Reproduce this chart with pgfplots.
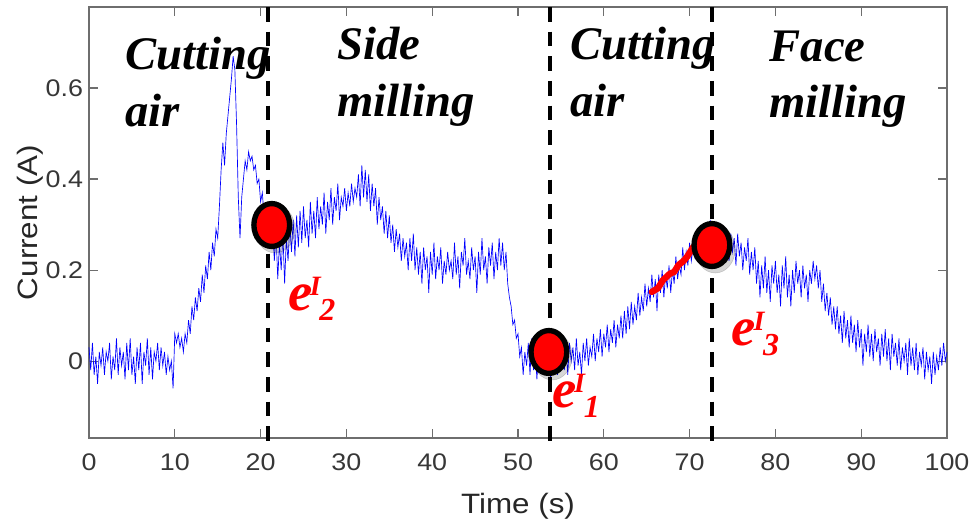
\documentclass[border=0pt]{standalone}
\usepackage{pgfplots}
\pgfplotsset{compat=1.18}
\usepackage{fontspec}
\newfontfamily\lsans{Liberation Sans}[FakeStretch=1.12]
\newfontfamily\tnr{Liberation Serif}
\definecolor{tickgray}{RGB}{55,55,55}
\definecolor{axgray}{RGB}{110,110,110}
\newcommand{\reg}{\tnr\bfseries\itshape\fontsize{35}{35}\selectfont}
\newcommand{\elab}[1]{{\tnr\bfseries\itshape\color{red}\fontsize{41}{41}\selectfont e\kern-2pt\raisebox{11pt}{\fontsize{21}{21}\selectfont I}\kern-1pt\raisebox{-8pt}{\fontsize{24}{24}\selectfont #1}}}
\begin{document}
\begin{tikzpicture}
\begin{axis}[
  scale only axis, width=643.5pt, height=323.25pt,
  xmin=0, xmax=100, ymin=-0.169, ymax=0.778,
  xtick={0,10,...,100}, ytick={0,0.2,0.4,0.6},
  yticklabels={0,0.2,0.4,0.6},
  tick align=inside, major tick length=6.5pt,
  axis line style={axgray, line width=0.8pt},
  every tick/.style={axgray, line width=0.8pt},
  /pgf/number format/assume math mode=true,
  tick label style={font=\lsans\fontsize{18}{18}\selectfont, text=tickgray},
  xticklabel style={yshift=-8pt},
  yticklabel style={xshift=-1pt},
  xlabel={Time (s)}, ylabel={Current (A)},
  every axis x label/.style={at={(rel axis cs:0.5,-0.158)}, anchor=center, font=\lsans\fontsize{21}{21}\selectfont, text=black!85},
  every axis y label/.style={at={(rel axis cs:-0.0688,0.5)}, anchor=center, rotate=90, font=\lsans\fontsize{21}{21}\selectfont, text=black!85},
  clip=false,
]
\addplot[blue, line width=0.5pt] table {
0.0 0.03
0.2 -0.02
0.4 0.04
0.6 -0.03
0.8 0.01
1.0 -0.05
1.2 0.02
1.4 -0.01
1.6 0.03
1.8 -0.03
2.0 0.02
2.2 0.00
2.4 0.04
2.6 -0.04
2.8 0.01
3.0 -0.02
3.2 0.05
3.4 -0.03
3.6 0.03
3.8 -0.01
4.0 0.02
4.2 -0.04
4.4 0.04
4.6 -0.02
4.8 0.05
5.0 -0.03
5.2 0.01
5.4 -0.05
5.6 0.03
5.8 -0.02
6.0 0.04
6.2 -0.05
6.4 0.02
6.6 -0.01
6.8 0.05
7.0 -0.03
7.2 0.03
7.4 -0.04
7.6 0.02
7.8 0.00
8.0 0.04
8.2 -0.02
8.4 0.03
8.6 -0.01
8.8 0.02
9.0 -0.03
9.2 0.01
9.4 -0.02
9.6 0.00
9.8 -0.06
10.0 0.06
10.2 0.04
10.4 0.06
10.6 0.03
10.8 0.05
11.0 0.02
11.2 0.06
11.4 0.04
11.6 0.09
11.8 0.06
12.0 0.12
12.2 0.09
12.4 0.14
12.6 0.11
12.8 0.16
13.0 0.13
13.2 0.19
13.4 0.15
13.6 0.21
13.8 0.18
14.0 0.24
14.2 0.20
14.4 0.26
14.6 0.23
14.8 0.29
15.0 0.27
15.2 0.34
15.4 0.42
15.6 0.48
15.8 0.43
16.0 0.50
16.2 0.54
16.4 0.58
16.6 0.62
16.8 0.67
17.0 0.64
17.2 0.52
17.4 0.36
17.6 0.27
17.8 0.36
18.0 0.40
18.2 0.44
18.4 0.42
18.6 0.46
18.8 0.44
19.0 0.45
19.2 0.42
19.4 0.43
19.6 0.39
19.8 0.40
20.0 0.35
20.2 0.37
20.4 0.32
20.6 0.33
20.8 0.29
21.0 0.31
21.2 0.27
21.4 0.30
21.6 0.22
21.8 0.28
22.0 0.18
22.2 0.26
22.4 0.20
22.6 0.28
22.8 0.17
23.0 0.27
23.2 0.22
23.4 0.30
23.6 0.24
23.8 0.31
24.0 0.23
24.2 0.32
24.4 0.25
24.6 0.33
24.8 0.26
25.0 0.34
25.2 0.27
25.4 0.31
25.6 0.25
25.8 0.35
26.0 0.28
26.2 0.33
26.4 0.27
26.6 0.36
26.8 0.29
27.0 0.34
27.2 0.30
27.4 0.37
27.6 0.28
27.8 0.35
28.0 0.31
28.2 0.38
28.4 0.30
28.6 0.36
28.8 0.33
29.0 0.39
29.2 0.31
29.4 0.36
29.6 0.34
29.8 0.38
30.0 0.33
30.2 0.37
30.4 0.34
30.6 0.39
30.8 0.35
31.0 0.38
31.2 0.36
31.4 0.41
31.6 0.34
31.8 0.43
32.0 0.36
32.2 0.42
32.4 0.35
32.6 0.41
32.8 0.33
33.0 0.39
33.2 0.34
33.4 0.38
33.6 0.30
33.8 0.36
34.0 0.31
34.2 0.34
34.4 0.28
34.6 0.33
34.8 0.27
35.0 0.32
35.2 0.26
35.4 0.30
35.6 0.24
35.8 0.29
36.0 0.25
36.2 0.28
36.4 0.22
36.6 0.27
36.8 0.23
37.0 0.26
37.2 0.20
37.4 0.27
37.6 0.22
37.8 0.28
38.0 0.20
38.2 0.25
38.4 0.19
38.6 0.24
38.8 0.17
39.0 0.25
39.2 0.20
39.4 0.23
39.6 0.15
39.8 0.24
40.0 0.19
40.2 0.26
40.4 0.18
40.6 0.23
40.8 0.20
41.0 0.25
41.2 0.17
41.4 0.22
41.6 0.19
41.8 0.24
42.0 0.20
42.2 0.22
42.4 0.18
42.6 0.26
42.8 0.19
43.0 0.23
43.2 0.16
43.4 0.24
43.6 0.21
43.8 0.27
44.0 0.19
44.2 0.22
44.4 0.18
44.6 0.25
44.8 0.20
45.0 0.23
45.2 0.15
45.4 0.24
45.6 0.19
45.8 0.27
46.0 0.20
46.2 0.23
46.4 0.17
46.6 0.25
46.8 0.21
47.0 0.26
47.2 0.18
47.4 0.24
47.6 0.20
47.8 0.27
48.0 0.21
48.2 0.26
48.4 0.20
48.6 0.24
48.8 0.17
49.0 0.14
49.2 0.12
49.4 0.08
49.6 0.09
49.8 0.05
50.0 0.06
50.2 0.01
50.4 0.03
50.6 -0.03
50.8 0.02
51.0 -0.01
51.2 0.04
51.4 -0.03
51.6 0.05
51.8 -0.02
52.0 0.03
52.2 -0.04
52.4 0.02
52.6 -0.01
52.8 0.04
53.0 -0.03
53.2 0.02
53.4 -0.02
53.6 0.01
53.8 -0.04
54.0 0.03
54.2 -0.02
54.4 0.04
54.6 -0.03
54.8 0.02
55.0 -0.01
55.2 0.05
55.4 -0.02
55.6 0.03
55.8 -0.03
56.0 0.04
56.2 0.00
56.4 0.03
56.6 -0.02
56.8 0.05
57.0 -0.01
57.2 0.02
57.4 -0.03
57.6 0.04
57.8 0.00
58.0 0.05
58.2 -0.01
58.4 0.03
58.6 0.01
58.8 0.06
59.0 0.00
59.2 0.05
59.4 0.02
59.6 0.07
59.8 0.01
60.0 0.06
60.2 0.03
60.4 0.08
60.6 0.02
60.8 0.07
61.0 0.04
61.2 0.09
61.4 0.03
61.6 0.08
61.8 0.05
62.0 0.10
62.2 0.05
62.4 0.11
62.6 0.06
62.8 0.12
63.0 0.07
63.2 0.13
63.4 0.08
63.6 0.12
63.8 0.09
64.0 0.15
64.2 0.10
64.4 0.14
64.6 0.11
64.8 0.17
65.0 0.12
65.2 0.16
65.4 0.13
65.6 0.19
65.8 0.14
66.0 0.18
66.2 0.11
66.4 0.19
66.6 0.15
66.8 0.20
67.0 0.14
67.2 0.19
67.4 0.16
67.6 0.21
67.8 0.15
68.0 0.20
68.2 0.17
68.4 0.23
68.6 0.18
68.8 0.21
69.0 0.19
69.2 0.25
69.4 0.20
69.6 0.24
69.8 0.21
70.0 0.26
70.2 0.22
70.4 0.25
70.6 0.23
70.8 0.28
71.0 0.24
71.2 0.27
71.4 0.25
71.6 0.29
71.8 0.26
72.0 0.30
72.2 0.25
72.4 0.31
72.6 0.27
72.8 0.30
73.0 0.24
73.2 0.29
73.4 0.26
73.6 0.30
73.8 0.24
74.0 0.28
74.2 0.23
74.4 0.27
74.6 0.22
74.8 0.28
75.0 0.24
75.2 0.27
75.4 0.21
75.6 0.28
75.8 0.23
76.0 0.26
76.2 0.20
76.4 0.25
76.6 0.22
76.8 0.27
77.0 0.19
77.2 0.24
77.4 0.20
77.6 0.25
77.8 0.17
78.0 0.22
78.2 0.14
78.4 0.21
78.6 0.16
78.8 0.23
79.0 0.15
79.2 0.20
79.4 0.13
79.6 0.21
79.8 0.17
80.0 0.22
80.2 0.15
80.4 0.19
80.6 0.12
80.8 0.21
81.0 0.16
81.2 0.23
81.4 0.14
81.6 0.19
81.8 0.12
82.0 0.20
82.2 0.15
82.4 0.22
82.6 0.17
82.8 0.20
83.0 0.14
83.2 0.21
83.4 0.16
83.6 0.19
83.8 0.13
84.0 0.20
84.2 0.17
84.4 0.22
84.6 0.18
84.8 0.21
85.0 0.16
85.2 0.20
85.4 0.13
85.6 0.17
85.8 0.11
86.0 0.15
86.2 0.10
86.4 0.14
86.6 0.08
86.8 0.12
87.0 0.07
87.2 0.12
87.4 0.06
87.6 0.10
87.8 0.04
88.0 0.11
88.2 0.05
88.4 0.09
88.6 0.03
88.8 0.10
89.0 0.04
89.2 0.08
89.4 0.02
89.6 0.09
89.8 0.03
90.0 0.07
90.2 -0.01
90.4 0.06
90.6 0.02
90.8 0.08
91.0 0.01
91.2 0.06
91.4 0.00
91.6 0.07
91.8 0.02
92.0 0.05
92.2 -0.01
92.4 0.06
92.6 0.01
92.8 0.07
93.0 0.00
93.2 0.05
93.4 -0.02
93.6 0.06
93.8 0.01
94.0 0.04
94.2 -0.01
94.4 0.05
94.6 -0.02
94.8 0.03
95.0 0.00
95.2 0.04
95.4 -0.03
95.6 0.05
95.8 -0.01
96.0 0.03
96.2 -0.02
96.4 0.04
96.6 -0.03
96.8 0.02
97.0 -0.01
97.2 0.03
97.4 -0.04
97.6 0.02
97.8 -0.02
98.0 0.01
98.2 -0.05
98.4 0.02
98.6 -0.03
98.8 0.01
99.0 -0.02
99.2 0.03
99.4 -0.01
99.6 0.04
99.8 0.00
100.0 0.02
};
% dashed phase boundaries
\addplot[black, line width=3pt, dash pattern=on 11pt off 7.5pt] coordinates {(20.9,0.778) (20.9,-0.178)};
\addplot[black, line width=3pt, dash pattern=on 11pt off 7.5pt] coordinates {(53.7,0.778) (53.7,-0.178)};
\addplot[black, line width=3pt, dash pattern=on 11pt off 7.5pt] coordinates {(72.6,0.778) (72.6,-0.178)};
% red trend segment
\addplot[red, line width=4.8pt, line cap=round, line join=round] coordinates {
(65.6,0.152) (66.3,0.160) (66.9,0.178) (67.7,0.192) (68.2,0.196) (68.7,0.211) (69.3,0.220) (69.7,0.229) (70.4,0.250) (71.2,0.258) (72.0,0.262)};
% shadows of markers
\addplot[only marks, mark=*, mark size=15pt, mark options={fill=black, draw=none, opacity=0.16, yscale=1.2, xshift=2.5pt, yshift=-2.5pt}] coordinates {(21.3,0.299) (53.6,0.020) (72.6,0.255)};
% markers
\addplot[only marks, mark=*, mark size=13.4pt, mark options={fill=red, draw=black, line width=4pt, yscale=1.2}] coordinates {(21.3,0.299) (53.6,0.020) (72.6,0.255)};
% region labels
\node[anchor=base west, inner sep=0] at (axis cs:4.2,0.640) {\reg Cutting};
\node[anchor=base west, inner sep=0] at (axis cs:4.2,0.515) {\reg air};
\node[anchor=base west, inner sep=0] at (axis cs:28.9,0.662) {\reg Side};
\node[anchor=base west, inner sep=0] at (axis cs:28.9,0.537) {\reg milling};
\node[anchor=base west, inner sep=0] at (axis cs:56.1,0.662) {\reg Cutting};
\node[anchor=base west, inner sep=0] at (axis cs:56.1,0.537) {\reg air};
\node[anchor=base west, inner sep=0] at (axis cs:79.3,0.658) {\reg Face};
\node[anchor=base west, inner sep=0] at (axis cs:79.3,0.535) {\reg milling};
% error labels
\node[anchor=base west, inner sep=0] at (axis cs:23.2,0.112) {\elab{2}};
\node[anchor=base west, inner sep=0] at (axis cs:54.0,-0.101) {\elab{1}};
\node[anchor=base west, inner sep=0] at (axis cs:74.9,0.035) {\elab{3}};
\end{axis}
\pgfresetboundingbox
\path[use as bounding box] ([xshift=-66.75pt,yshift=-64.5pt]current axis.south west) rectangle ([xshift=19.5pt,yshift=5.25pt]current axis.north east);
\end{tikzpicture}
\end{document}
